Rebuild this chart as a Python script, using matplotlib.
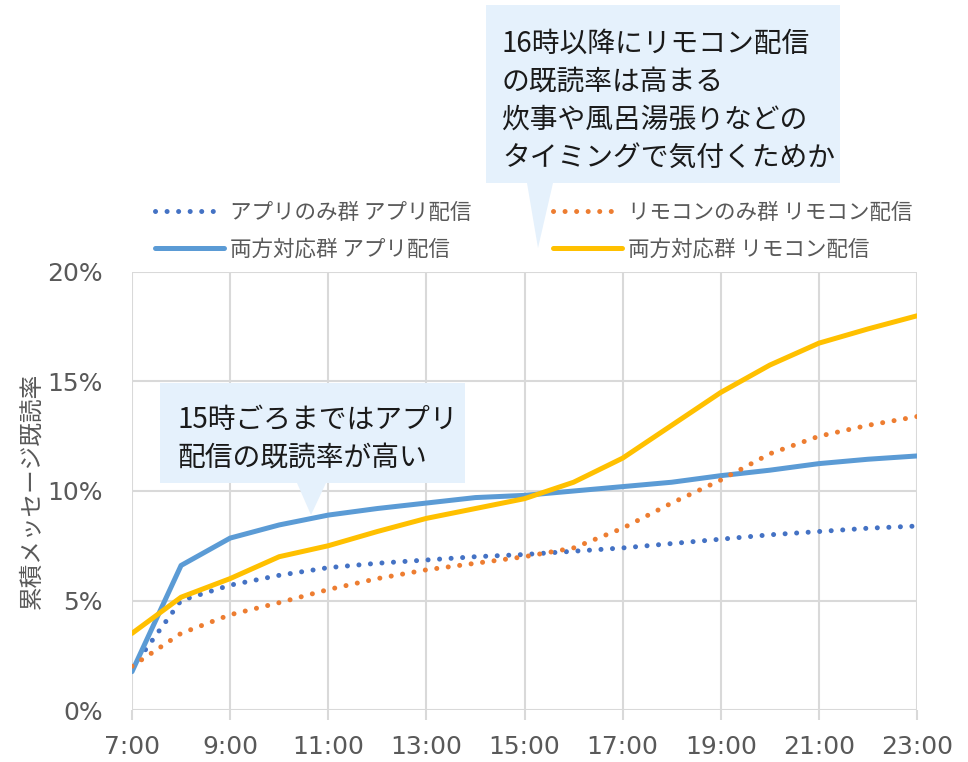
import matplotlib
matplotlib.use("Agg")
import matplotlib.pyplot as plt
from matplotlib.patches import Polygon
from matplotlib.ticker import FuncFormatter

plt.rcParams["font.family"] = ["Noto Sans CJK JP", "DejaVu Sans"]

W, H = 968, 762

hours = list(range(7, 24))
tick_hours = list(range(7, 24, 2))
tick_labels = [f"{h}:00" for h in tick_hours]

# cumulative read rate (%)
app_only = [1.9, 5.0, 5.7, 6.15, 6.5, 6.7, 6.85, 7.0, 7.1, 7.25, 7.4, 7.6, 7.8, 8.0, 8.15, 8.3, 8.4]
both_app = [1.75, 6.6, 7.85, 8.45, 8.9, 9.2, 9.45, 9.7, 9.8, 10.0, 10.2, 10.4, 10.7, 10.95, 11.25, 11.45, 11.6]
remote_only = [2.0, 3.5, 4.35, 4.9, 5.5, 6.0, 6.4, 6.7, 7.0, 7.4, 8.3, 9.45, 10.5, 11.7, 12.5, 13.0, 13.4]
both_remote = [3.5, 5.15, 6.0, 7.0, 7.5, 8.15, 8.75, 9.2, 9.65, 10.4, 11.5, 13.0, 14.5, 15.75, 16.75, 17.4, 18.0]

labels = ["アプリのみ群 アプリ配信", "両方対応群 アプリ配信",
          "リモコンのみ群 リモコン配信", "両方対応群 リモコン配信"]

note_top = "16時以降にリモコン配信\nの既読率は高まる\n炊事や風呂湯張りなどの\nタイミングで気付くためか"
note_mid = "15時ごろまではアプリ\n配信の既読率が高い"

grey = "#595959"
grid = "#D9D9D9"
box = "#E5F1FC"


def px(x, y):
    return (x / W, 1 - y / H)


fig = plt.figure(figsize=(W / 100, H / 100), dpi=100)
ax = fig.add_axes([132 / W, 1 - 710 / H, (917 - 132) / W, (710 - 272) / H])

lw = 3.6
dots = (0, (0.01, 2.3))
l1, = ax.plot(hours, app_only, color="#4472C4", lw=lw, linestyle=dots,
              dash_capstyle="round")
l2, = ax.plot(hours, both_app, color="#5B9BD5", lw=lw, solid_capstyle="round")
l3, = ax.plot(hours, remote_only, color="#ED7D31", lw=lw, linestyle=dots,
              dash_capstyle="round")
l4, = ax.plot(hours, both_remote, color="#FFC000", lw=lw, solid_capstyle="round")

ax.set_xlim(7, 23)
ax.set_ylim(0, 20)
ax.set_xticks(tick_hours)
ax.set_xticklabels(tick_labels)
ax.set_yticks([0, 5, 10, 15, 20])
ax.yaxis.set_major_formatter(FuncFormatter(lambda v, p: f"{v:.0f}%"))
ax.grid(True, color=grid, lw=1.5)
ax.set_axisbelow(True)
for s in ax.spines.values():
    s.set_visible(False)
ax.tick_params(axis="x", colors=grid, length=7, width=1.5, labelsize=18,
               labelcolor=grey, pad=11)
ax.tick_params(axis="y", length=0, labelsize=18, labelcolor=grey, pad=21)
for t in ax.get_xticklabels() + ax.get_yticklabels():
    t.set_family("DejaVu Sans")
ax.set_ylabel("累積メッセージ既読率", fontsize=17, color=grey)
ax.yaxis.set_label_coords(-0.113, 0.5)

leg_kw = dict(frameon=False, fontsize=15.5, handlelength=3.2, handletextpad=0.3,
              labelspacing=0.66, borderpad=0, borderaxespad=0, loc="center left",
              bbox_transform=fig.transFigure)
for t in fig.legend([l1, l2], labels[:2], bbox_to_anchor=px(155, 231), **leg_kw).get_texts():
    t.set_color(grey)
for t in fig.legend([l3, l4], labels[2:], bbox_to_anchor=px(553, 231), **leg_kw).get_texts():
    t.set_color(grey)

# callouts
top_box = [px(486, 5), px(840, 5), px(840, 183), px(553, 183), px(538, 248),
           px(527, 183), px(486, 183)]
mid_box = [px(160, 383), px(465, 383), px(465, 483), px(326, 483), px(311, 515),
           px(297, 483), px(160, 483)]
for pts in (top_box, mid_box):
    fig.patches.append(Polygon(pts, closed=True, transform=fig.transFigure,
                               facecolor=box, edgecolor="none", zorder=5))

fig.text(*px(502, 101), note_top, fontsize=20, color="#1A1A1A", va="center",
         ha="left", linespacing=1.35, zorder=6)
fig.text(*px(177, 439), note_mid, fontsize=20, color="#1A1A1A", va="center",
         ha="left", linespacing=1.35, zorder=6)

fig.savefig("out.png", dpi=100)
